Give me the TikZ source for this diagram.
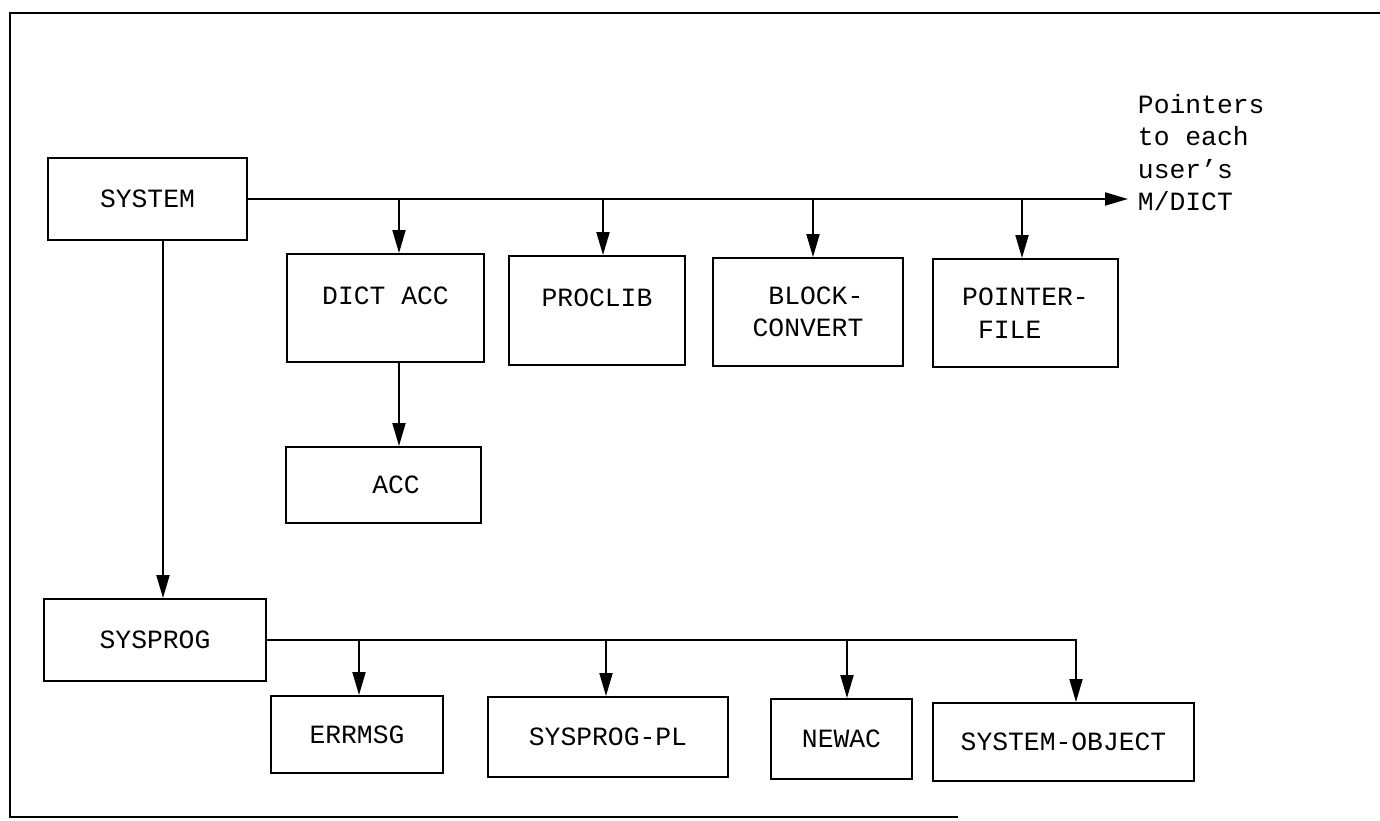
\documentclass[tikz,border=0pt]{standalone}
\usepackage{fontspec}
\setmonofont{Liberation Mono}
\usetikzlibrary{arrows.meta}
\begin{document}
\begin{tikzpicture}[x=0.02cm,y=-0.02cm,line width=1.1pt,
  font=\ttfamily\fontsize{15}{18.5}\selectfont,
  >={Triangle[length=0.46cm,width=0.26cm]},
  b/.style={draw,inner sep=0pt},
  hi/.style={text depth=0.5cm}]
  \useasboundingbox (0,0) rectangle (1380,821);
  % outer frame (right side cut off)
  \draw (1380,13) -- (10,13) -- (10,817) -- (958,817);
  \node[b,minimum width=3.98cm,minimum height=1.64cm] (sys) at (147.5,199) {SYSTEM};
  \node[b,hi,minimum width=3.94cm,minimum height=2.16cm] (dacc) at (385.5,308) {DICT ACC};
  \node[b,hi,minimum width=3.52cm,minimum height=2.18cm] (plib) at (597,310.5) {PROCLIB};
  \node[b,align=right,minimum width=3.8cm,minimum height=2.16cm] (bconv) at (808,312) {BLOCK-\\CONVERT};
  \node[b,align=left,minimum width=3.7cm,minimum height=2.16cm] (pfile) at (1025.5,313) {POINTER-\\\hphantom{P}FILE};
  \node[b,minimum width=3.9cm,minimum height=1.52cm] (acc) at (383.5,485) {\hspace{0.5cm}ACC};
  \node[b,minimum width=4.44cm,minimum height=1.64cm] (sprog) at (155,640) {SYSPROG};
  \node[b,minimum width=3.44cm,minimum height=1.54cm] (err) at (357,734.5) {ERRMSG};
  \node[b,minimum width=4.8cm,minimum height=1.6cm] (spl) at (608,737) {SYSPROG-PL};
  \node[b,minimum width=2.82cm,minimum height=1.6cm] (nac) at (841.5,739) {NEWAC};
  \node[b,minimum width=5.22cm,minimum height=1.56cm] (sobj) at (1063.5,742) {SYSTEM-OBJECT};
  \node[anchor=base west,align=left,inner sep=0pt] (ptr) at (1137,211) {Pointers\\to each\\user’s\\M/DICT};
  \coordinate (tip) at (1128,199);
  % top bus
  \draw[->] (sys.east) -- (tip);
  \foreach \n/\dx in {dacc/13.5,plib/6,bconv/5,pfile/-3.5}
    \draw[->] ([xshift=\dx*0.02cm]\n.north |- sys.east) -- ([xshift=\dx*0.02cm]\n.north);
  \draw[->] ([xshift=0.27cm]dacc.south) -- ([xshift=0.27cm]dacc.south |- acc.north);
  \draw[->] ([xshift=0.31cm]sys.south) -- ([xshift=0.31cm]sys.south |- sprog.north);
  % bottom bus
  \draw[->] (sprog.east) -| ([xshift=0.25cm]sobj.north);
  \foreach \n/\dx in {err/2,spl/-2,nac/5.5}
    \draw[->] ([xshift=\dx*0.02cm]\n.north |- sprog.east) -- ([xshift=\dx*0.02cm]\n.north);
\end{tikzpicture}
\end{document}
